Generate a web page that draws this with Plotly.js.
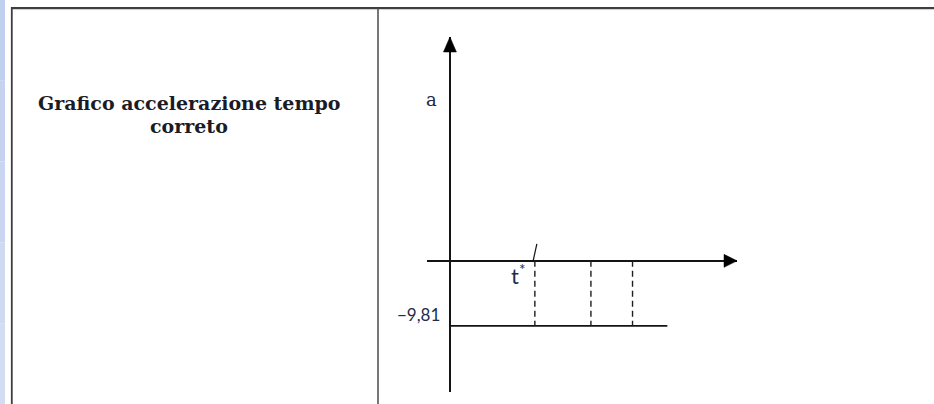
<!DOCTYPE html>
<html>
<head>
<meta charset="utf-8">
<script src="https://cdn.plot.ly/plotly-3.0.1.min.js"></script>
<style>
  html, body { margin: 0; padding: 0; background: #ffffff; }
  #chart { width: 934px; height: 404px; }
</style>
</head>
<body>
<div id="chart"></div>
<script>
// Acceleration–time sketch for a body in free fall: a(t) = -9,81 m/s²
const rowLabel = ['Grafico accelerazione tempo', 'correto'];
const timeMarks = [1.0, 1.66, 2.15];      // t* and two later instants (dashed guides)
const timeMarkLabels = ['t*', '', ''];
const accelValue = -9.81;                  // constant acceleration
const accelSpan = [0, 2.56];               // time interval over which a(t) is drawn
const axisLabelA = 'a';

// axis windows (data units)
const X_RANGE = [-0.27, 3.38];
const Y_RANGE = [-19.8, 33.8];
const W = 934, H = 404;
const X_DOM = [427 / W, 737 / W];
const Y_DOM = [12 / H, 367 / H];

// pixel -> data-unit helpers for arrowheads and small decorations
const xUnitsPerPx = (X_RANGE[1] - X_RANGE[0]) / ((X_DOM[1] - X_DOM[0]) * W);
const yUnitsPerPx = (Y_RANGE[1] - Y_RANGE[0]) / ((Y_DOM[1] - Y_DOM[0]) * H);
const ink = '#141414';

const traces = [];

// a(t) = -9,81
traces.push({
  x: accelSpan, y: [accelValue, accelValue],
  mode: 'lines', line: { color: ink, width: 1.6 },
  hoverinfo: 'skip', showlegend: false
});

// dashed guides from the time axis down to a(t)
timeMarks.forEach(t => {
  traces.push({
    x: [t, t], y: [0, accelValue],
    mode: 'lines', line: { color: '#1e1e1e', width: 1.4, dash: '6px,4px' },
    hoverinfo: 'skip', showlegend: false
  });
});

// small tick marking t* on the time axis
traces.push({
  x: [timeMarks[0] - 2 * xUnitsPerPx, timeMarks[0] + 2 * xUnitsPerPx],
  y: [-0.2, 17 * yUnitsPerPx],
  mode: 'lines', line: { color: ink, width: 1.2 },
  hoverinfo: 'skip', showlegend: false
});

// arrowheads at the ends of both axes
const headLen = 15, headHalf = 6.5;
traces.push({
  x: [0, -headHalf * xUnitsPerPx, headHalf * xUnitsPerPx, 0],
  y: [Y_RANGE[1], Y_RANGE[1] - headLen * yUnitsPerPx, Y_RANGE[1] - headLen * yUnitsPerPx, Y_RANGE[1]],
  mode: 'lines', fill: 'toself', fillcolor: '#000', line: { color: '#000', width: 0.5 },
  hoverinfo: 'skip', showlegend: false
});
traces.push({
  x: [X_RANGE[1], X_RANGE[1] - 13 * xUnitsPerPx, X_RANGE[1] - 13 * xUnitsPerPx, X_RANGE[1]],
  y: [0, headHalf * yUnitsPerPx, -headHalf * yUnitsPerPx, 0],
  mode: 'lines', fill: 'toself', fillcolor: '#000', line: { color: '#000', width: 0.5 },
  hoverinfo: 'skip', showlegend: false
});

const fmtComma = v => (v < 0 ? '\u2212' : '') + Math.abs(v).toFixed(2).replace('.', ',');

// row heading in the left cell, one annotation per line
const annotations = rowLabel.map((line, i) => ({
  xref: 'paper', yref: 'paper', x: 189 / W, y: 1 - (103 + 23 * i) / H,
  xanchor: 'center', yanchor: 'middle', showarrow: false,
  text: '<b>' + line + '</b>',
  font: { family: 'DejaVu Serif', size: 19, color: '#1b1b26' }
}));

annotations.push(
  {
    xref: 'x', yref: 'y', x: 0, y: 0,
    xshift: -18, yshift: 161, xanchor: 'center', yanchor: 'middle', showarrow: false,
    text: axisLabelA, font: { family: 'DejaVu Serif', size: 18, color: '#23283a' }
  },
  {
    xref: 'x', yref: 'y', x: timeMarks[0], y: 0,
    xshift: -17, yshift: -14, xanchor: 'center', yanchor: 'middle', showarrow: false,
    text: timeMarkLabels[0].replace('*', '<sup>*</sup>'),
    font: { family: 'Lato', size: 22, color: '#1f2d4a' }
  },
  {
    xref: 'x', yref: 'y', x: 0, y: accelValue,
    xshift: -8, yshift: 11, xanchor: 'right', yanchor: 'middle', showarrow: false,
    text: fmtComma(accelValue), font: { family: 'Lato', size: 17, color: '#1f2d4a' }
  }
);

// table frame: outer border, cell divider, and blue page strip on the left
const shapes = [];
const stripColors = ['#c2d0ef', '#c6d3f0', '#cad6f1', '#ced9f2', '#d2dcf3'];
stripColors.forEach((c, i) => {
  shapes.push({
    type: 'rect', xref: 'paper', yref: 'paper', layer: 'below',
    x0: 0, x1: 5 / W, y0: 1 - (i + 1) / stripColors.length, y1: 1 - i / stripColors.length,
    fillcolor: c, line: { width: 0 }
  });
});
shapes.push(
  { type: 'line', xref: 'paper', yref: 'paper', x0: 11 / W, x1: 1, y0: 1 - 9.6 / H, y1: 1 - 9.6 / H,
    line: { color: '#cfcfcf', width: 1 } },
  { type: 'line', xref: 'paper', yref: 'paper', x0: 11 / W, x1: 1, y0: 1 - 8 / H, y1: 1 - 8 / H,
    line: { color: '#3e3e3e', width: 2 } },
  { type: 'line', xref: 'paper', yref: 'paper', x0: 11.8 / W, x1: 11.8 / W, y0: 0, y1: 1 - 7 / H,
    line: { color: '#3e3e3e', width: 1.8 } },
  { type: 'line', xref: 'paper', yref: 'paper', x0: 378 / W, x1: 378 / W, y0: 0, y1: 1 - 8 / H,
    line: { color: '#4a4a4a', width: 1.5 } }
);

const layout = {
  width: W, height: H,
  margin: { l: 0, r: 0, t: 0, b: 0 },
  paper_bgcolor: '#ffffff', plot_bgcolor: 'rgba(0,0,0,0)',
  showlegend: false,
  xaxis: {
    domain: X_DOM, range: X_RANGE, showgrid: false, showticklabels: false,
    ticks: '', showline: false, zeroline: true, zerolinecolor: ink, zerolinewidth: 2,
    fixedrange: true
  },
  yaxis: {
    domain: Y_DOM, range: Y_RANGE, showgrid: false, showticklabels: false,
    ticks: '', showline: false, zeroline: true, zerolinecolor: ink, zerolinewidth: 2,
    fixedrange: true
  },
  annotations: annotations,
  shapes: shapes
};

Plotly.newPlot('chart', traces, layout, { displayModeBar: false, staticPlot: true });
</script>
</body>
</html>
